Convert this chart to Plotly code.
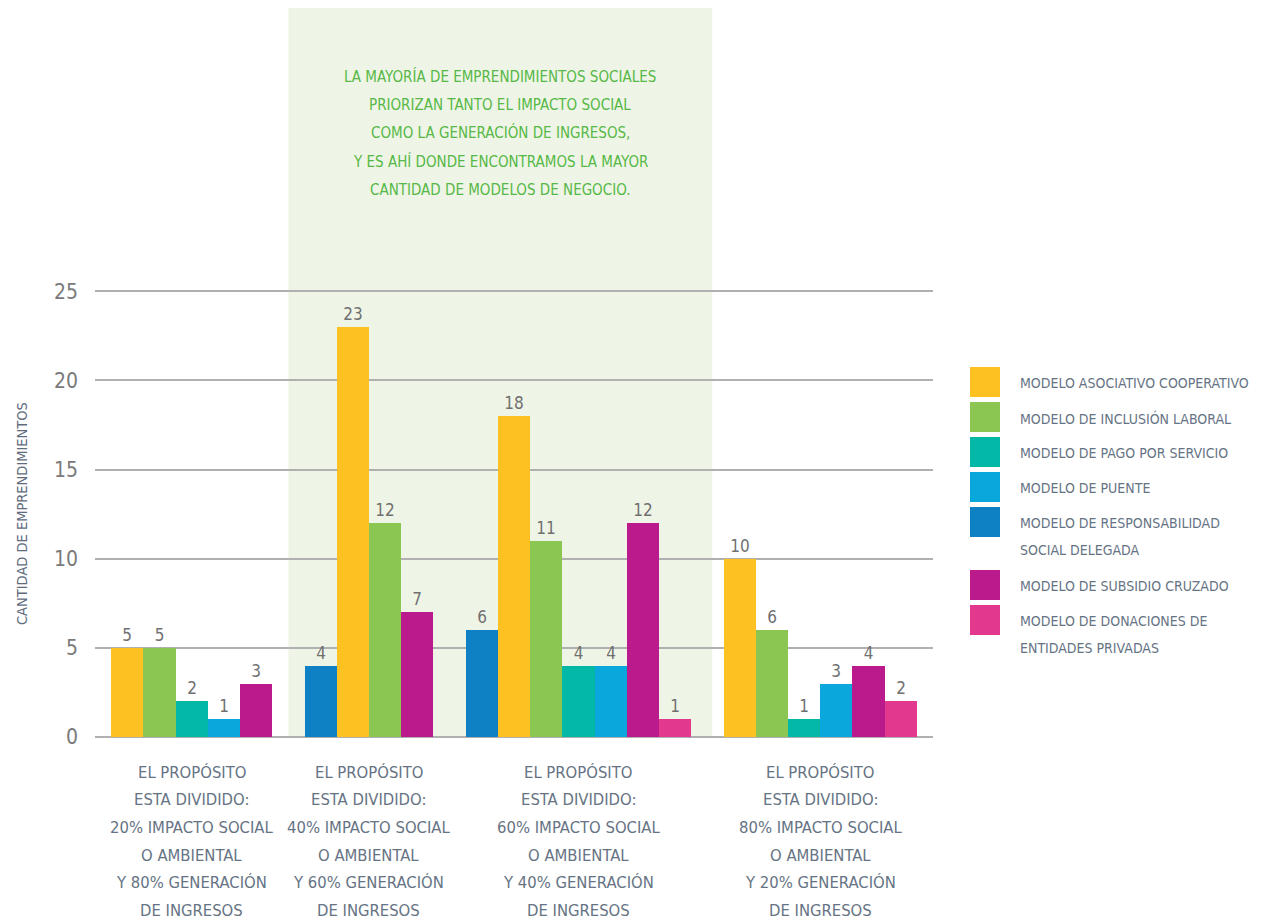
import plotly.graph_objects as go

# ---------------- data ----------------
groups = [
    "EL PROPÓSITO<br>ESTA DIVIDIDO:<br>20% IMPACTO SOCIAL<br>O AMBIENTAL<br>Y 80% GENERACIÓN<br>DE INGRESOS",
    "EL PROPÓSITO<br>ESTA DIVIDIDO:<br>40% IMPACTO SOCIAL<br>O AMBIENTAL<br>Y 60% GENERACIÓN<br>DE INGRESOS",
    "EL PROPÓSITO<br>ESTA DIVIDIDO:<br>60% IMPACTO SOCIAL<br>O AMBIENTAL<br>Y 40% GENERACIÓN<br>DE INGRESOS",
    "EL PROPÓSITO<br>ESTA DIVIDIDO:<br>80% IMPACTO SOCIAL<br>O AMBIENTAL<br>Y 20% GENERACIÓN<br>DE INGRESOS",
]
asociativo = [5, 23, 18, 10]
inclusion = [5, 12, 11, 6]
pago = [2, 0, 4, 1]
puente = [1, 0, 4, 3]
responsabilidad = [0, 4, 6, 0]
subsidio = [3, 7, 12, 4]
donaciones = [0, 0, 1, 2]

legend_names = [
    "MODELO ASOCIATIVO COOPERATIVO",
    "MODELO DE INCLUSIÓN LABORAL",
    "MODELO DE PAGO POR SERVICIO",
    "MODELO DE PUENTE",
    "MODELO DE RESPONSABILIDAD<br>SOCIAL DELEGADA",
    "MODELO DE SUBSIDIO CRUZADO",
    "MODELO DE DONACIONES DE<br>ENTIDADES PRIVADAS",
]
y_ticks = [0, 5, 10, 15, 20, 25]
note = ("LA MAYORÍA DE EMPRENDIMIENTOS SOCIALES<br>PRIORIZAN TANTO EL IMPACTO SOCIAL<br>"
        "COMO LA GENERACIÓN DE INGRESOS,<br>Y ES AHÍ DONDE ENCONTRAMOS LA MAYOR<br>"
        "CANTIDAD DE MODELOS DE NEGOCIO.")
y_title = "CANTIDAD DE EMPRENDIMIENTOS"

# ---------------- styles ----------------
colors = {
    "asoc": "#fdc221", "incl": "#8bc652", "pago": "#04b8a8", "puente": "#0aa7dd",
    "resp": "#0e80c4", "sub": "#bb1a8c", "don": "#e2388e",
}
series = {
    "asoc": asociativo, "incl": inclusion, "pago": pago, "puente": puente,
    "resp": responsabilidad, "sub": subsidio, "don": donaciones,
}
legend_keys = ["asoc", "incl", "pago", "puente", "resp", "sub", "don"]
slot_order = ["resp", "asoc", "incl", "pago", "puente", "sub", "don"]

FONT = "DejaVu Sans Condensed, Liberation Sans Narrow, sans-serif"
LABEL_COLOR = "#667384"
GRID = "#b0b0b0"

# pack non-zero bars into consecutive slots, one empty slot between groups
pos = {k: [None] * len(groups) for k in slot_order}
centers, gaps = [], []
cursor = 0
for g in range(len(groups)):
    start = cursor
    for k in slot_order:
        if series[k][g] > 0:
            pos[k][g] = cursor
            cursor += 1
    centers.append((start + cursor - 1) / 2)
    gaps.append(cursor)
    cursor += 1
last_edge = gaps[-1]

fig = go.Figure()
for k in slot_order:
    xs = [pos[k][g] for g in range(len(groups)) if series[k][g] > 0]
    ys = [series[k][g] for g in range(len(groups)) if series[k][g] > 0]
    fig.add_trace(go.Bar(
        x=xs, y=ys, width=1.0, marker=dict(color=colors[k], line=dict(width=0)),
        text=ys, textposition="outside", cliponaxis=False,
        textfont=dict(family=FONT, size=17, color="#707070"),
        showlegend=False, hoverinfo="y",
    ))

# plot geometry in pixels (for paper conversions)
W, H = 1267, 921
L, R, B = 95, 933, 737
Y25 = 291                      # pixel row of the value 25
YMAX = 25.3
T = round(B - (B - Y25) * YMAX / 25)
pw, ph = R - L, B - T
def px(x):
    return (x - L) / pw
def py(y):
    return (B - y) / ph

shapes = []
shapes.append(dict(type="rect", layer="below", xref="x", yref="paper",
                   x0=gaps[0], x1=gaps[2] + 0.15, y0=0, y1=py(8),
                   fillcolor="#eff5e6", line=dict(width=0)))

annotations = []
for i, line in enumerate(note.split("<br>")):
    annotations.append(dict(text=line, xref="x", yref="paper",
                            x=(gaps[0] + gaps[2]) / 2 + 0.07, y=py(76 + 28.5 * i),
                            xanchor="center", yanchor="middle", showarrow=False,
                            font=dict(family=FONT, size=15, color="#56b847")))
for g, c in enumerate(centers):
    for i, line in enumerate(groups[g].split("<br>")):
        annotations.append(dict(text=line, xref="x", yref="paper", x=c, y=py(772 + 27.7 * i),
                                xanchor="center", yanchor="middle", showarrow=False,
                                font=dict(family=FONT, size=16.5, color=LABEL_COLOR)))
annotations.append(dict(text=y_title, xref="paper", yref="paper", x=px(22), y=py(514),
                        textangle=-90, xanchor="center", yanchor="middle", showarrow=False,
                        font=dict(family=FONT, size=14.5, color="#5f6c7d")))

# legend drawn manually
top = 367
for i, k in enumerate(legend_keys):
    lines = legend_names[i].split("<br>")
    shapes.append(dict(type="rect", xref="paper", yref="paper",
                       x0=px(970), x1=px(1000), y0=py(top + 30), y1=py(top),
                       fillcolor=colors[k], line=dict(width=0)))
    for j, line in enumerate(lines):
        annotations.append(dict(text=line, xref="paper", yref="paper",
                                x=px(1018), y=py(top + 16 + 27 * j), xanchor="left",
                                yanchor="middle", showarrow=False,
                                font=dict(family=FONT, size=14, color=LABEL_COLOR)))
    top += 35 + 28 * (len(lines) - 1)

fig.update_layout(
    width=W, height=H,
    margin=dict(l=L, r=W - R, t=T, b=H - B, pad=0),
    plot_bgcolor="rgba(0,0,0,0)", paper_bgcolor="white",
    barmode="overlay", bargap=0,
    shapes=shapes, annotations=annotations,
    xaxis=dict(range=[-1, last_edge], showticklabels=False, showgrid=False,
               zeroline=False, showline=False, fixedrange=True),
    yaxis=dict(range=[0, YMAX], tickvals=y_ticks, showgrid=True, gridcolor=GRID,
               gridwidth=2, zeroline=True, zerolinecolor=GRID, zerolinewidth=2,
               showline=False, ticks="", ticklabelstandoff=16,
               tickfont=dict(family=FONT, size=21, color="#7a7a7a")),
    font=dict(family=FONT),
)

fig.write_html("out.html")
